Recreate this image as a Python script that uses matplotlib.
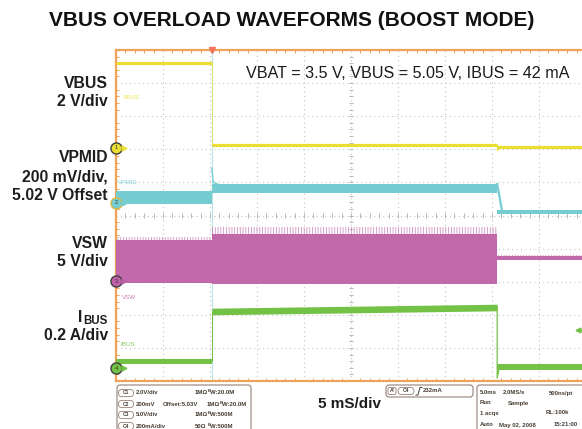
import numpy as np
import matplotlib
matplotlib.use("Agg")
import matplotlib.pyplot as plt
from matplotlib.patches import FancyBboxPatch
from matplotlib.collections import LineCollection

plt.rcParams['font.family'] = ['Liberation Sans', 'DejaVu Sans']
plt.rcParams['hatch.linewidth'] = 0.6

# ---------------- data (screen divisions, 5 ms/div horizontally) ----------------
seg_t = [0.0, 2.04, 8.11, 10.0]          # segment boundaries (div)
vbus_div = [9.61, 7.13, 7.07]            # VBUS level per segment
vpmid_lo = [5.35, 5.68, 5.05]
vpmid_hi = [5.74, 5.95, 5.17]
vsw_lo = [2.96, 2.93, 3.66]
vsw_hi = [4.26, 4.45, 3.78]
vsw_spike = [4.36, 4.64, 3.80]
ibus_start = [0.59, 2.10, 0.42]
ibus_end = [0.59, 2.22, 0.42]
ibus_half = [0.08, 0.10, 0.09]
vpmid_spike = 6.43
ibus_dip = 0.09

ch_names = ["1", "2", "3", "4"]
ch_ground = [7.04, 5.38, 3.02, 0.39]     # ground markers (div)
trace_labels = ["VBUS", "VPMID", "VSW", "IBUS"]
trace_label_pos = [(0.15, 8.58), (0.04, 6.01), (0.13, 2.51), (0.09, 1.09)]

left_labels = [("VBUS", 84), ("2 V/div", 102), ("VPMID", 158), ("200 mV/div,", 177),
               ("5.02 V Offset", 195), ("VSW", 243), ("5 V/div", 262), ("0.2 A/div", 336)]
annotation = "VBAT = 3.5 V, VBUS = 5.05 V, IBUS = 42 mA"
title = "VBUS OVERLOAD WAVEFORMS (BOOST MODE)"

ch_rows = [("C1", "2.0V/div", "", "1MΩ", "20.0M"),
           ("C2", "200mV", "Offset:5.03V", "1MΩ", "20.0M"),
           ("C3", "5.0V/div", "", "1MΩ", "500M"),
           ("C4", "200mA/div", "", "50Ω", "500M")]
acq_rows = [("5.0ms", "2.0MS/s", "500ns/pt"), ("Run", "Sample", ""),
            ("1 acqs", "", "RL:100k"), ("Auto", "May 02, 2008", "15:21:00")]

# ---------------- colours ----------------
YEL = (0.92, 0.87, 0.20)
CYA = (0.46, 0.80, 0.82)
MAG = (0.75, 0.38, 0.66)
GRN = (0.45, 0.76, 0.27)
ORA = (0.93, 0.64, 0.35)
TXT = (0.28, 0.24, 0.20)
BOX = (0.58, 0.50, 0.46)

W, H = 582, 429
fig = plt.figure(figsize=(W / 100, H / 100), dpi=100)
fig.patch.set_facecolor("white")

# main scope axes (extends beyond the right edge of the picture)
L, R, T, B = 116, 586, 50, 381
ax = fig.add_axes([L / W, (H - B) / H, (R - L) / W, (B - T) / H])
ax.set_xlim(0, 10)
ax.set_ylim(0, 10)
ax.set_xticks(np.arange(0, 11, 1))
ax.set_yticks(np.arange(0, 11, 1))
ax.set_xticks(np.arange(0, 10.01, 0.2), minor=True)
ax.set_yticks(np.arange(0, 10.01, 0.2), minor=True)
ax.tick_params(which="both", direction="in", colors=ORA, labelleft=False,
               labelbottom=False, top=True, right=True)
ax.tick_params(which="major", length=0)
ax.tick_params(which="minor", length=2.3, width=0.7)
ax.grid(True, which="major", linestyle=(0, (1, 3)), color="#c4c4c4", lw=0.8)
for s in ax.spines.values():
    s.set_color(ORA)
    s.set_linewidth(1.6)

# centre cross ticks
segs = []
for xv in np.arange(0, 10.01, 0.2):
    segs.append([(xv, 4.93), (xv, 5.07)])
for yv in np.arange(0, 10.01, 0.2):
    segs.append([(4.96, yv), (5.04, yv)])
ax.add_collection(LineCollection(segs, colors="#b8b8b8", linewidths=0.7))

# step transition lines
t_on, t_off = seg_t[1], seg_t[2]
ax.plot([t_on, t_on], [0.05, 9.95], color=CYA, lw=0.8, alpha=0.5, zorder=2)
ax.plot([t_on, t_on], [vbus_div[0], vbus_div[1]], color=YEL, lw=0.8, alpha=0.6, zorder=3)
ax.plot([t_on, t_on], [ibus_start[0], ibus_start[1]], color=GRN, lw=0.7, zorder=3)

for i in range(3):
    x0, x1 = seg_t[i], seg_t[i + 1]
    # VBUS
    ax.plot([x0, x1], [vbus_div[i], vbus_div[i]], color=YEL, lw=2.3, solid_capstyle="butt", zorder=4)
    # VPMID
    ax.fill_between([x0, x1], [vpmid_lo[i]] * 2, [vpmid_hi[i]] * 2, color=CYA, lw=0, zorder=4)
    # VSW
    ax.fill_between([x0, x1], [vsw_hi[i]] * 2, [vsw_spike[i]] * 2, facecolor="none",
                    edgecolor=MAG, hatch="||||||", alpha=0.7, lw=0, zorder=4)
    ax.fill_between([x0, x1], [vsw_lo[i]] * 2, [vsw_hi[i]] * 2, color=MAG, alpha=0.95, lw=0, zorder=4)
    # IBUS
    ax.fill_between([x0, x1], [ibus_start[i] - ibus_half[i], ibus_end[i] - ibus_half[i]],
                    [ibus_start[i] + ibus_half[i], ibus_end[i] + ibus_half[i]],
                    color=GRN, lw=0, zorder=4)

# VPMID spike at turn on and fall at turn off
ax.plot([t_on, t_on + 0.03, t_on + 0.12], [vpmid_spike, vpmid_hi[1] + 0.05, vpmid_hi[1]],
        color=CYA, lw=1.0, zorder=4)
ax.plot([t_off, t_off + 0.1], [vpmid_hi[1], vpmid_hi[2]], color=CYA, lw=1.6, zorder=4)
ax.plot([t_off, t_off], [vbus_div[1], vbus_div[2] - 0.1], color=YEL, lw=1.0, zorder=4)
# IBUS fall
ax.plot([t_off, t_off, t_off + 0.05], [ibus_end[1], ibus_dip, ibus_start[2]],
        color=GRN, lw=0.9, zorder=4)

# trace labels
for name, (px, py), c in zip(trace_labels, trace_label_pos, [YEL, CYA, MAG, GRN]):
    ax.text(px, py, name, fontsize=4.5, color=c, alpha=0.85, va="center", ha="left", zorder=5)

# channel ground markers
for name, gy, c in zip(ch_names, ch_ground, [YEL, CYA, MAG, GRN]):
    ec = (0.85, 0.72, 0.25) if name == "2" else (0.25, 0.25, 0.25)
    ax.plot([0.0], [gy], marker="o", ms=8, mfc=c, mec=ec, mew=1.0, clip_on=False, zorder=6)
    ax.plot([0.16], [gy], marker=">", ms=3.5, mfc=c, mec=c, clip_on=False, zorder=6)
    ax.text(0.0, gy, name, fontsize=4, ha="center", va="center", color=(0.2, 0.2, 0.2),
            zorder=7, clip_on=False)

# trigger markers
ax.plot([t_on], [10.0], marker="v", ms=5, color=(0.95, 0.45, 0.35), clip_on=False, zorder=6)
ax.plot([9.83], [1.54], marker="<", ms=3.5, color=GRN, clip_on=False, zorder=6)
ax.plot([9.83, 9.92], [1.54, 1.54], color=GRN, lw=0.8, clip_on=False, zorder=6)

ax.text((246 - L) / 47, (B - 73) / 33.1, annotation, fontsize=11.6, ha="left", va="center",
        color="#1a1a1a", zorder=8)

# ---------------- overlay in pixel coords ----------------
ov = fig.add_axes([0, 0, 1, 1])
ov.set_xlim(0, W)
ov.set_ylim(H, 0)
ov.axis("off")
ov.patch.set_alpha(0)

ov.text(292, 21, title, fontsize=15, fontweight="bold", ha="center", va="center", color="#111111")
for txt, yc in left_labels:
    ov.text(108, yc, txt, fontsize=11.3, fontweight="bold", ha="right", va="center", color="#1e1e1e")
ov.text(82, 317, "I", fontsize=11.3, fontweight="bold", ha="right", va="center", color="#1e1e1e")
ov.text(107.5, 321, "BUS", fontsize=8.3, fontweight="bold", ha="right", va="center", color="#1e1e1e")

ov.text(349, 404, "5 mS/div", fontsize=11, fontweight="bold", ha="center", va="center", color="#1e1e1e")

def rbox(x, y, w, h, r=3, lw=0.8, ec=BOX):
    p = FancyBboxPatch((x, y), w, h, boxstyle=f"round,pad=0,rounding_size={r}",
                       fc="none", ec=ec, lw=lw, transform=ov.transData, clip_on=False)
    ov.add_patch(p)

rbox(117, 385, 134, 50)
rbox(386, 385, 87, 12)
rbox(477, 385, 115, 50)

fs = 4.3
rows_y = [393, 404, 415, 426]
for (cn, a, b, imp, bw), yc in zip(ch_rows, rows_y):
    rbox(118.5, yc - 3.6, 15, 7.2, r=3.5, lw=0.6)
    ov.text(126, yc, cn, fontsize=3.5, ha="center", va="center", color=TXT, fontweight="bold")
    ov.text(136, yc, a, fontsize=fs, ha="left", va="center", color=TXT, fontweight="bold")
    xi = 195
    if b:
        ov.text(163, yc, b, fontsize=fs, ha="left", va="center", color=TXT, fontweight="bold")
        xi = 207
    ov.text(xi, yc, imp, fontsize=fs, ha="left", va="center", color=TXT, fontweight="bold")
    ov.text(xi + 13, yc - 1.5, "B", fontsize=3.0, ha="left", va="center", color=TXT, fontweight="bold")
    ov.text(xi + 15.5, yc, "W:" + bw, fontsize=fs, ha="left", va="center", color=TXT, fontweight="bold")

# trigger box
rbox(388, 387.5, 8, 7, r=1.5, lw=0.6)
ov.text(392, 391, "A'", fontsize=3.8, ha="center", va="center", color=TXT, fontweight="bold")
rbox(398, 387.5, 16, 7, r=3.5, lw=0.6)
ov.text(406, 391, "C4", fontsize=3.5, ha="center", va="center", color=TXT, fontweight="bold")
ov.plot([416, 418, 420, 422], [395, 395, 387.5, 387.5], color=TXT, lw=0.7)
ov.text(423, 391, "232mA", fontsize=fs, ha="left", va="center", color=TXT, fontweight="bold")

acq_y = [393, 403, 413, 425]
acq_x = [[480, 503, 549], [480, 508, 0], [480, 0, 546], [480, 499, 554]]
for row, xs, yc in zip(acq_rows, acq_x, acq_y):
    for txt, xx in zip(row, xs):
        if txt:
            ov.text(xx, yc, txt, fontsize=fs, ha="left", va="center", color=TXT, fontweight="bold")

fig.savefig("out.png", dpi=100, facecolor="white")
